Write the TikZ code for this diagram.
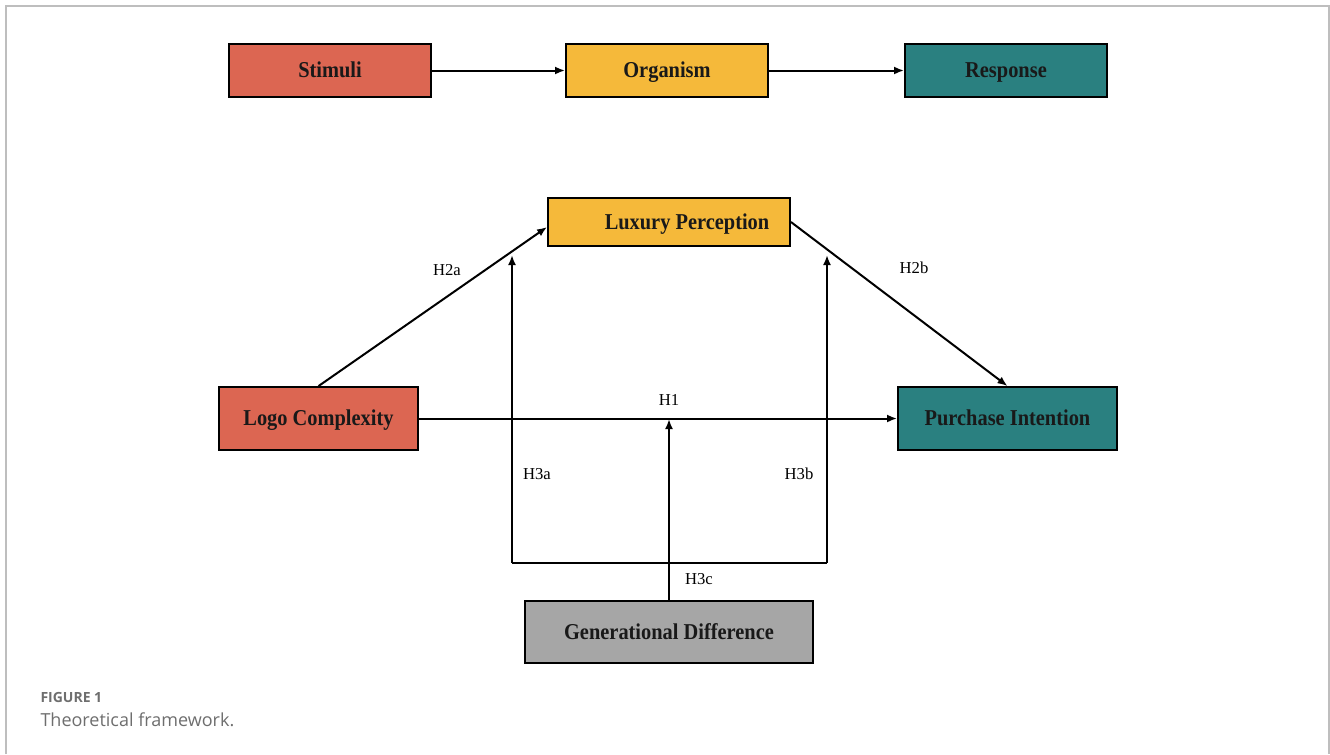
\documentclass[tikz,border=0pt]{standalone}
\usepackage{fontspec}
\setmainfont{Liberation Serif}
\newfontfamily\boxfont[FakeStretch=0.9]{Liberation Serif}
\newfontfamily\capfont{Open Sans}
\usetikzlibrary{arrows.meta}

\definecolor{stimred}{RGB}{220,102,82}
\definecolor{orgyellow}{RGB}{245,185,58}
\definecolor{respteal}{RGB}{42,128,128}
\definecolor{genGray}{RGB}{166,166,166}
\definecolor{frameGray}{RGB}{190,190,190}
\definecolor{capGray}{RGB}{110,110,110}

\tikzset{every picture/.style={line width=0.75pt}}
\tikzset{
  box/.style={draw=black, line width=1.4pt, font=\boxfont\fontsize{17}{19}\selectfont\bfseries, text=black!90, inner sep=0pt, text height=11.2pt, text depth=0pt},
  topbox/.style={box, minimum width=151.5pt, minimum height=39.75pt},
  midbox/.style={box, minimum height=47.25pt},
  hlabel/.style={font=\fontsize{12.5}{14}\selectfont, inner sep=0.75pt},
  link/.style={line width=1.5pt, -{Latex[length=7.5pt,width=6pt]}},
  plain/.style={line width=1.5pt}
}

\begin{document}
\begin{tikzpicture}[x=0.75pt,y=0.75pt,yscale=-1,xscale=1]
	\useasboundingbox (0,0) rectangle (1330,754);

	%frame
	\draw [frameGray, line width=1.5pt] (6,754) -- (6,6) -- (1329,6) -- (1329,754);

	%S-O-R row
	\node [topbox, fill=stimred] (stim) at (330,70.5) {Stimuli};
	\node [topbox, fill=orgyellow] (org) at (667,70.5) {Organism};
	\node [topbox, fill=respteal] (resp) at (1006,70.5) {Response};
	\draw [link] (stim) -- (org);
	\draw [link] (org) -- (resp);

	%model boxes
	\node [box, fill=orgyellow, minimum width=181.5pt, minimum height=36pt] (lux) at (669,222) {\hspace*{27pt}Luxury Perception};
	\node [midbox, fill=stimred, minimum width=149.25pt] (logo) at (318.5,418.5) {Logo Complexity};
	\node [midbox, fill=respteal, minimum width=164.25pt] (purch) at (1007.5,418.5) {Purchase Intention};
	\node [box, fill=genGray, minimum width=216pt, minimum height=46.5pt] (gen) at (669,632) {Generational Difference};

	%moderation points
	\coordinate (h3aLow) at (512,563);
	\coordinate (h3aTop) at (512,255);
	\coordinate (h3bLow) at (827,563);
	\coordinate (h3bTop) at (827,255);
	\coordinate (h3cTop) at (669,419);

	%paths
	\draw [link] (logo.north) -- ([yshift=3.75pt]lux.west);
	\draw [link] (lux.east) -- (purch.north);
	\draw [link] (logo) -- (purch);
	\draw [plain] (h3aLow) -- (h3bLow);
	\draw [link] (h3aLow) -- (h3aTop);
	\draw [link] (h3bLow) -- (h3bTop);
	\draw [link] (gen.north) -- (h3cTop);

	%labels
	\node [hlabel] (lH2a) at (447,270) {H2a};
	\node [hlabel] (lH2b) at (914,268) {H2b};
	\node [hlabel] (lH1) at (669,400) {H1};
	\node [hlabel] (lH3a) at (537,474) {H3a};
	\node [hlabel] (lH3b) at (799,474) {H3b};
	\node [hlabel] (lH3c) at (699,579) {H3c};

	%caption
	\node [anchor=west, inner sep=0pt, text=capGray, font=\capfont\fontsize{10.5}{12}\selectfont\bfseries] (capA) at (40,697) {FIGURE 1};
	\node [anchor=west, inner sep=0pt, text=capGray, font=\capfont\fontsize{13.5}{16}\selectfont] (capB) at (40,720) {Theoretical framework.};
\end{tikzpicture}
\end{document}
